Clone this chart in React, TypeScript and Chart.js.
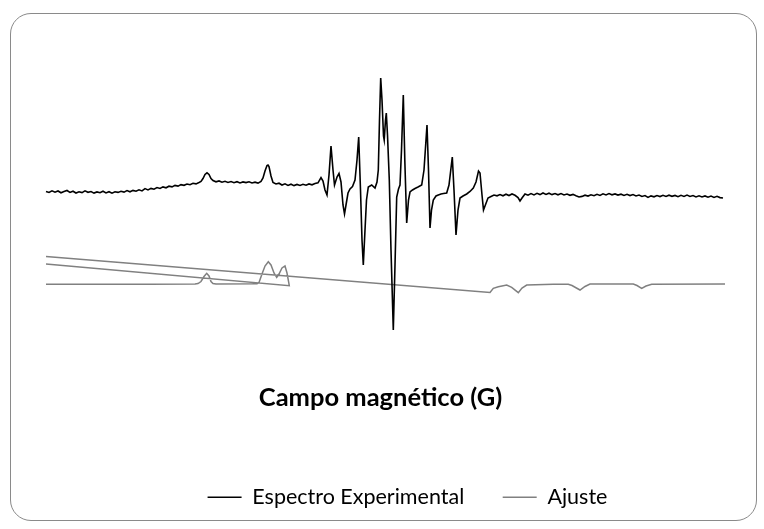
import { useEffect, useRef } from "react";
import { Chart, registerables } from "chart.js";

Chart.register(...registerables);

// Axis ranges (G, a.u.)
const fieldMin = 3190;
const fieldMax = 3879;
const intensityMin = -190;
const intensityMax = 130;

const axisTitle = "Campo magnético (G)";
const seriesNames = ["Espectro Experimental", "Ajuste"];

// Experimental EPR spectrum: [field (G), intensity (a.u.)]
const experimental: [number, number][] = [
  [3200, -1.5], [3203, -2.5], [3206, -0.8], [3209, -2.2], [3212, -1.0], [3215, -2.8],
  [3218, -1.6], [3221, -0.5], [3224, -2.4], [3227, -1.2], [3230, -3.0], [3233, -1.8],
  [3236, -2.6], [3239, -0.9], [3242, -2.3], [3245, -1.5], [3248, -3.1], [3251, -1.9],
  [3254, -2.7], [3257, -1.2], [3260, -2.9], [3263, -1.7], [3266, -3.2], [3269, -1.8],
  [3272, -2.4], [3275, -1.3], [3278, -2.1], [3281, -0.6], [3284, -1.8], [3287, -0.4],
  [3290, -1.2], [3293, 0.2], [3296, -0.9], [3299, 1.4], [3302, 0.1], [3305, 1.6],
  [3308, 0.8], [3311, 2.4], [3314, 1.5], [3317, 3.1], [3320, 2.2], [3323, 3.8],
  [3326, 3.1], [3329, 4.6], [3332, 3.9], [3335, 5.4], [3338, 4.7], [3341, 6.0],
  [3344, 5.3], [3347, 6.7], [3350, 6.1], [3353, 7.5], [3355, 8.5], [3357, 11.5],
  [3359, 15.5], [3361, 17.2], [3363, 15.5], [3365, 11.5], [3367, 9.5], [3370, 8.2],
  [3373, 9.1], [3376, 7.8], [3379, 8.7], [3382, 7.6], [3385, 8.5], [3388, 7.3],
  [3391, 8.3], [3394, 7.1], [3397, 8.1], [3400, 7.4], [3403, 8.2], [3406, 7.0],
  [3409, 7.8], [3412, 6.9], [3415, 8.5], [3417, 12.0], [3419, 19.0], [3421, 24.5],
  [3422, 25.0], [3423, 23.5], [3425, 14.0], [3427, 7.5], [3430, 6.0], [3433, 6.8],
  [3436, 5.0], [3439, 6.2], [3442, 4.6], [3445, 5.8], [3448, 4.4], [3451, 5.6],
  [3454, 4.5], [3457, 5.7], [3460, 4.8], [3463, 6.1], [3466, 5.2], [3469, 6.5],
  [3472, 7.2], [3475, 12.5], [3477, 9.0], [3479, 0], [3481, -5.0], [3483, 15],
  [3485, 44], [3487, 20], [3488.5, 5], [3491, 13], [3493, 16.5], [3495, 8],
  [3497, -15], [3498.5, -24], [3500, -15], [3502, -3], [3504, 1], [3506.5, 3.5],
  [3509, 10], [3511, 30], [3512.7, 53], [3514.5, 0], [3516, -50], [3517.3, -75],
  [3519, -40], [3520.5, -10], [3522.3, 3], [3525.7, 5], [3529, 2], [3531, 8],
  [3532.3, 20], [3533.5, 70], [3534.7, 112], [3536, 90], [3537.5, 54], [3538.2, 50],
  [3539.5, 70], [3540.3, 77], [3541.5, 55], [3543.3, 10], [3545, -60], [3547.3, -140],
  [3549, -75], [3550.7, -7], [3552.5, 1], [3554, 5], [3555.5, 40], [3557.3, 95],
  [3558.8, 30], [3560.7, -33], [3562.5, -10], [3564, -2], [3566.5, 0], [3569, 1.5],
  [3572, 3], [3575.7, 5], [3578, 20], [3581, 65], [3582.5, 20], [3584, -38],
  [3585.5, -20], [3587.3, -10], [3590, -6], [3592.3, -5], [3595, -4], [3597.5, -3.5],
  [3600.7, -3], [3603, 5], [3606.3, 33], [3608, 0], [3610, -45], [3612, -20],
  [3614, -8], [3617, -6], [3620.7, -4], [3624, -1.5], [3627.3, 2], [3630, 8],
  [3632.5, 19], [3634, 17], [3636, -5], [3637.5, -20], [3639, -16], [3642, -8],
  [3645, -6.5], [3648, -5], [3651, -5.8], [3654, -4.5], [3657, -5.8], [3660, -4.2],
  [3663, -5.5], [3666, -4.0], [3669, -5.3], [3672, -7.5], [3674, -11.0], [3676, -8.0],
  [3679, -4.0], [3682, -5.2], [3685, -3.6], [3688, -4.9], [3691, -3.3], [3694, -4.6],
  [3697, -3.0], [3700, -4.4], [3703, -3.2], [3706, -4.6], [3709, -3.5], [3712, -4.8],
  [3715, -3.6], [3718, -5.0], [3721, -4.0], [3724, -5.3], [3727, -4.4], [3730, -5.8],
  [3733, -7.0], [3736, -6.4], [3739, -5.2], [3742, -6.1], [3745, -4.8], [3748, -5.7],
  [3751, -4.3], [3754, -5.4], [3757, -3.8], [3760, -5.0], [3763, -3.6], [3766, -4.8],
  [3769, -3.9], [3772, -5.1], [3775, -4.2], [3778, -5.4], [3781, -4.3], [3784, -5.6],
  [3787, -4.6], [3790, -5.9], [3793, -5.0], [3796, -6.4], [3799, -5.6], [3802, -7.4],
  [3805, -5.9], [3808, -6.8], [3811, -5.5], [3814, -6.6], [3817, -5.3], [3820, -6.5],
  [3823, -5.2], [3826, -6.3], [3829, -5.4], [3832, -6.7], [3835, -5.3], [3838, -6.4],
  [3841, -5.1], [3844, -6.5], [3847, -5.6], [3850, -6.9], [3853, -5.8], [3856, -7.0],
  [3859, -5.9], [3862, -7.2], [3865, -6.0], [3868, -7.4], [3871, -6.3], [3874, -7.6],
  [3877, -8.0],
];

// Fit curve, in the (unsorted) order it was plotted; null marks a break
const fitCurve: [number, number | null][] = [
  [3200, -94.3], [3304, -94.2], [3349, -94.0], [3352, -93.6], [3355, -91.5], [3358, -86.5],
  [3360.7, -83.3], [3363, -86], [3365, -91.5], [3367, -93.5], [3370, -94.0], [3411, -93.8],
  [3413, -92.5], [3416, -84], [3419, -76], [3422.3, -71.7], [3425, -75], [3428, -83],
  [3430.7, -87.3], [3433, -84], [3436, -78], [3439, -76], [3441, -83], [3443.3, -95.7],
  [3200, -74],
  [3200, null],
  [3200, -66.5], [3644, -102.5], [3647.3, -98.3], [3652.3, -96.7], [3656, -95.9],
  [3660.7, -95], [3665.7, -97.3], [3672.3, -102.7], [3676, -98], [3680.7, -95],
  [3707.3, -94.3], [3722.3, -94.3], [3726, -95.5], [3734, -100], [3739, -96.5],
  [3744, -94], [3787.3, -94], [3791, -95.5], [3795.7, -98.3], [3800, -96],
  [3805.7, -94.3], [3879, -94],
];

export default function App() {
  const ref = useRef<HTMLCanvasElement>(null);

  useEffect(() => {
    if (!ref.current) return;
    const chart = new Chart(ref.current, {
      type: "scatter",
      data: {
        datasets: [
          {
            label: seriesNames[0],
            data: experimental.map(([x, y]) => ({ x, y })),
            showLine: true,
            borderColor: "#000000",
            backgroundColor: "#000000",
            borderWidth: 1.6,
            pointRadius: 0,
            pointHoverRadius: 0,
          },
          {
            label: seriesNames[1],
            data: fitCurve.map(([x, y]) => ({ x, y })),
            showLine: true,
            spanGaps: false,
            borderColor: "#808080",
            backgroundColor: "#808080",
            borderWidth: 1.5,
            pointRadius: 0,
            pointHoverRadius: 0,
          },
        ],
      } as any,
      options: {
        animation: false,
        responsive: false,
        events: [],
        layout: { padding: { left: 36, right: 0, top: 60, bottom: 0 } },
        plugins: {
          legend: {
            position: "bottom",
            labels: {
              usePointStyle: true,
              pointStyle: "line",
              pointStyleWidth: 34,
              padding: 38.5,
              color: "#000000",
              font: { family: "Lato", size: 21.5 },
            },
          },
          tooltip: { enabled: false },
        },
        scales: {
          x: {
            type: "linear",
            min: fieldMin,
            max: fieldMax,
            grid: { display: false, drawTicks: false },
            border: { display: false },
            ticks: { display: false },
            title: {
              display: true,
              text: axisTitle,
              color: "#000000",
              font: { family: "Lato", size: 25.5, weight: "bold" },
              padding: { top: 2.7, bottom: 34.7 },
            },
          },
          y: {
            type: "linear",
            position: "right",
            min: intensityMin,
            max: intensityMax,
            grid: { display: false, drawTicks: false },
            border: { display: false },
            ticks: { display: false },
            afterFit: (s: any) => {
              s.width = 54;
            },
          },
        },
      } as any,
    });
    return () => chart.destroy();
  }, []);

  return (
    <div
      style={{
        position: "absolute",
        left: 0,
        top: 0,
        width: 764,
        height: 529,
        overflow: "hidden",
        background: "#ffffff",
      }}
    >
      <div
        style={{
          position: "absolute",
          left: 10,
          top: 13,
          width: 745,
          height: 506,
          border: "1.5px solid #8a8a8a",
          borderRadius: 21,
        }}
      />
      <canvas
        ref={ref}
        width={779}
        height={518}
        style={{ position: "absolute", left: 0, top: 0, width: 779, height: 518 }}
      />
    </div>
  );
}
